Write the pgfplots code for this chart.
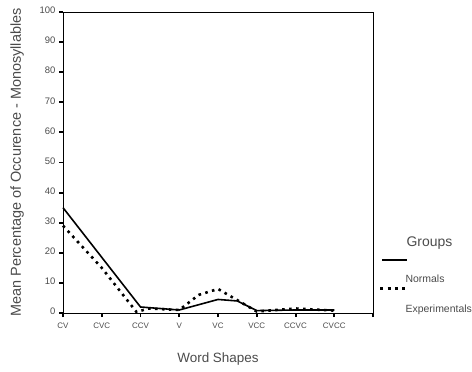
\documentclass[border=0pt]{standalone}
\usepackage{pgfplots}
\pgfplotsset{compat=1.18}
\usepackage{fontspec}
\setmainfont{Liberation Sans}
\definecolor{lblgray}{RGB}{75,75,75}
\begin{document}
\begin{tikzpicture}[x=1bp,y=1bp]
\begin{axis}[
  scale only axis, width=310bp, height=301bp,
  xmin=0, xmax=8, ymin=0, ymax=100,
  axis line style={line width=0.7pt},
  xtick={0,1,2,3,4,5,6,7,8},
  xticklabels={CV,CVC,CCV,V,VC,VCC,CCVC,CVCC,},
  ytick={0,10,20,30,40,50,60,70,80,90,100},
  tick align=outside, tickwidth=4bp,
  major tick style={line width=2pt, black},
  xtick pos=bottom, ytick pos=left,
  yticklabel style={font=\fontsize{9.5}{10}\selectfont, text=lblgray, yshift=1.5bp, xshift=0bp},
  xticklabel style={font=\fontsize{8}{9}\selectfont, text=lblgray, yshift=-2bp},
  /pgf/number format/assume math mode=true,
  ylabel={Mean Percentage of Occurence - Monosyllables},
  ylabel style={font=\fontsize{14.5}{16}\selectfont, text=lblgray, yshift=9bp},
  xlabel={Word Shapes},
  xlabel style={font=\fontsize{13.5}{15}\selectfont, text=lblgray, yshift=-18bp},
  legend style={at={(rel axis cs:1.100,0.130)}, anchor=north west, draw=none, fill=none,
    font=\fontsize{10.5}{12}\selectfont, text=lblgray, row sep=18.5bp, inner sep=0pt,
    column sep=0pt,
    nodes={text height=7.5bp, text depth=2bp, inner sep=1bp},
    cells={anchor=west}},
  clip=false,
]
\addplot[black, line width=1.6pt, forget plot] coordinates {
  (0,35) (1,18.5) (2,2) (3,1) (4,4.5) (4.5,4) (5,0.8) (6,1) (7,1)
};
\addplot[black, line width=2.6pt, dash pattern=on 2.6pt off 4.4pt, forget plot] coordinates {
  (0,29) (1,15) (1.9,0.3) (2.2,1.5) (3,1) (3.5,6) (4,8) (4.4,5) (5,0.5) (6,1.5) (7,0.8)
};
\addlegendimage{legend image code/.code={\path (0bp,0bp); \draw[overlay,black,line width=2pt] (-22bp,20bp)--(3bp,20bp);}}
\addlegendentry{Normals}
\addlegendimage{legend image code/.code={\path (0bp,0bp); \draw[overlay,black,line width=3pt,dash pattern=on 3pt off 4.3pt] (-24bp,21bp)--(2bp,21bp);}}
\addlegendentry{Experimentals}
\node[anchor=west, font=\fontsize{14}{16}\selectfont, text=lblgray] at (rel axis cs:1.097,0.233) {Groups};
\end{axis}
\pgfresetboundingbox
\path ([shift={(-63bp,-58bp)}]current axis.south west) rectangle ([shift={(99bp,12bp)}]current axis.north east);
\end{tikzpicture}
\end{document}
